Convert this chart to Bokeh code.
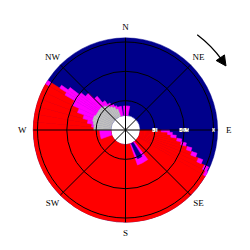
import math
from bokeh.plotting import figure
from bokeh.models import ColumnDataSource, Range1d, Arrow, NormalHead
from bokeh.core.properties import value
from bokeh.embed import file_html
from bokeh.resources import INLINE

# ---- data (radial values in the chart's own units, azimuth in degrees clockwise from N)
R_HOLE = -1.25
R_OUTER = 0.07
radial_ticks = [-1.0, -0.5, 0.0]
radial_tick_labels = ["-1", "-0.5", "0"]
compass_az = [0, 45, 90, 135, 180, 225, 270, 315]
compass_labels = ["N", "NE", "E", "SE", "S", "SW", "W", "NW"]

# red cells: az start, az end, inner, outer
red_az0 = [90, 93, 96, 99, 102, 105, 108, 111, 114, 117, 120,
           270, 275, 280, 285, 290, 295, 300]
red_az1 = [93, 96, 99, 102, 105, 108, 111, 114, 117, 120, 270,
           275, 280, 285, 290, 295, 300, 302.5]
red_in  = [-1.25, -1.25, -1.25, -1.25, -1.25, -1.25, -1.25, -1.25, -1.25, -1.25, -1.25,
           -0.97, -0.92, -0.84, -0.75, -0.63, -0.50, -0.31]
red_out = [-0.89, -0.78, -0.72, -0.61, -0.53, -0.41, -0.31, -0.17, -0.03, 0.03, 0.07,
           0.07, 0.07, 0.07, 0.07, 0.07, 0.07, 0.0]

# magenta cells
mag_az0 = [90, 93, 96, 99, 102, 105, 108, 111, 114, 117,
           355, 0, 143, 250,
           275, 280, 285, 290, 295, 300, 300, 302.5, 305, 307.5, 310, 315, 320, 325, 330, 335, 340]
mag_az1 = [93, 96, 99, 102, 105, 108, 111, 114, 117, 120,
           360, 10, 161, 270,
           280, 285, 290, 295, 300, 302.5, 302.5, 305, 307.5, 310, 315, 320, 325, 330, 335, 340, 350]
mag_in  = [-0.89, -0.78, -0.72, -0.61, -0.53, -0.41, -0.31, -0.17, -0.03, 0.03,
           -1.25, -1.25, -1.25, -1.25,
           -0.96, -0.94, -0.92, -0.92, -0.94, -0.94, 0.0, -0.94, -0.94, -0.94, -0.94, -0.96,
           -0.99, -1.04, -1.07, -1.12, -1.25]
mag_out = [-0.75, -0.70, -0.63, -0.53, -0.44, -0.33, -0.22, -0.09, 0.05, 0.07,
           -1.09, -1.09, -0.87, -1.06,
           -0.92, -0.84, -0.75, -0.63, -0.50, -0.31, 0.07, -0.17, -0.31, -0.51, -0.61, -0.75,
           -0.89, -0.97, -1.02, -1.06, -1.09]

# gray cells
gray_az0 = [270, 275, 280, 285, 290, 295, 300, 305, 310, 315, 320, 325, 330, 335]
gray_az1 = [275, 280, 285, 290, 295, 300, 305, 310, 315, 320, 325, 330, 335, 340]
gray_in  = [-1.25] * 14
gray_out = [-0.96, -0.96, -0.94, -0.92, -0.92, -0.94, -0.94, -0.94, -0.94, -0.96,
            -0.99, -1.04, -1.07, -1.12]

# blue spike near the centre (south-east)
bluespike_az0 = [148]
bluespike_az1 = [157]
bluespike_in = [-1.25]
bluespike_out = [-0.97]

RED = "#ff0000"
MAG = "#ff00ff"
BLUE = "#00008b"
GRAY = "#c0c0c0"

OFF = 1.5          # radius = value + OFF
PX = 58.7          # pixels per radial unit
W = H = 242
CX, CY = 125.0, 129.5

def cells(az0, az1, rin, rout, color):
    d = dict(start=[], end=[], inner=[], outer=[], color=[])
    for a, b, i, o in zip(az0, az1, rin, rout):
        d["start"].append(math.radians(90 - b))
        d["end"].append(math.radians(90 - a))
        d["inner"].append(i + OFF)
        d["outer"].append(o + OFF)
        d["color"].append(color)
    return d

p = figure(width=W, height=H, output_backend="svg", toolbar_location=None,
           x_range=Range1d(-CX / PX, (W - CX) / PX),
           y_range=Range1d(-(H - CY) / PX, CY / PX),
           min_border=0)
p.axis.visible = False
p.grid.visible = False
p.outline_line_color = None
p.background_fill_color = "white"
p.border_fill_color = "white"

# blue base
p.annulus(x=0, y=0, inner_radius=R_HOLE + OFF, outer_radius=R_OUTER + OFF,
          fill_color=BLUE, line_color=BLUE, line_width=0.5)

allc = dict(start=[], end=[], inner=[], outer=[], color=[])
for part in (cells(red_az0, red_az1, red_in, red_out, RED),
             cells(mag_az0, mag_az1, mag_in, mag_out, MAG),
             cells(gray_az0, gray_az1, gray_in, gray_out, GRAY),
             cells(bluespike_az0, bluespike_az1, bluespike_in, bluespike_out, BLUE)):
    for k in allc:
        allc[k] += part[k]
src = ColumnDataSource(allc)
p.annular_wedge(x=0, y=0, inner_radius="inner", outer_radius="outer",
                start_angle="start", end_angle="end", source=src,
                fill_color="color", line_color="color", line_width=0.6)

# grid rings
p.circle(x=[0] * len(radial_ticks), y=[0] * len(radial_ticks),
         radius=[t + OFF for t in radial_ticks],
         fill_color=None, line_color="black", line_width=1)

# spokes
sx, sy = [], []
for az in compass_az:
    th = math.radians(90 - az)
    sx.append((R_OUTER + OFF) * math.cos(th))
    sy.append((R_OUTER + OFF) * math.sin(th))
p.segment(x0=[0] * 8, y0=[0] * 8, x1=sx, y1=sy, line_color="black", line_width=1)

# radial tick labels
p.text(x=[t + OFF for t in radial_ticks], y=[0] * 3, text=radial_tick_labels,
       text_font=value("Liberation Serif"), text_font_size=value("6px"),
       text_align="center", text_baseline="middle", text_color="black",
       background_fill_color="white", padding=0)

# compass labels
LR = 1.76
lx = [LR * math.cos(math.radians(90 - a)) for a in compass_az]
ly = [LR * math.sin(math.radians(90 - a)) for a in compass_az]
p.text(x=lx, y=ly, text=compass_labels, text_font=value("Liberation Serif"),
       text_font_size=value("9px"), text_align="center", text_baseline="middle",
       text_color="black")

# direction arrow (clockwise)
AR = 2.03
p.arc(x=0, y=0, radius=AR, start_angle=math.radians(36), end_angle=math.radians(53),
      line_color="black", line_width=1.3)
a0, a1 = math.radians(36.5), math.radians(32.5)
p.add_layout(Arrow(end=NormalHead(size=10, fill_color="black", line_color="black"),
                   x_start=AR * math.cos(a0), y_start=AR * math.sin(a0),
                   x_end=AR * math.cos(a1), y_end=AR * math.sin(a1),
                   line_color="black", line_width=1.3))

open("out.html", "w").write(file_html(p, INLINE))
